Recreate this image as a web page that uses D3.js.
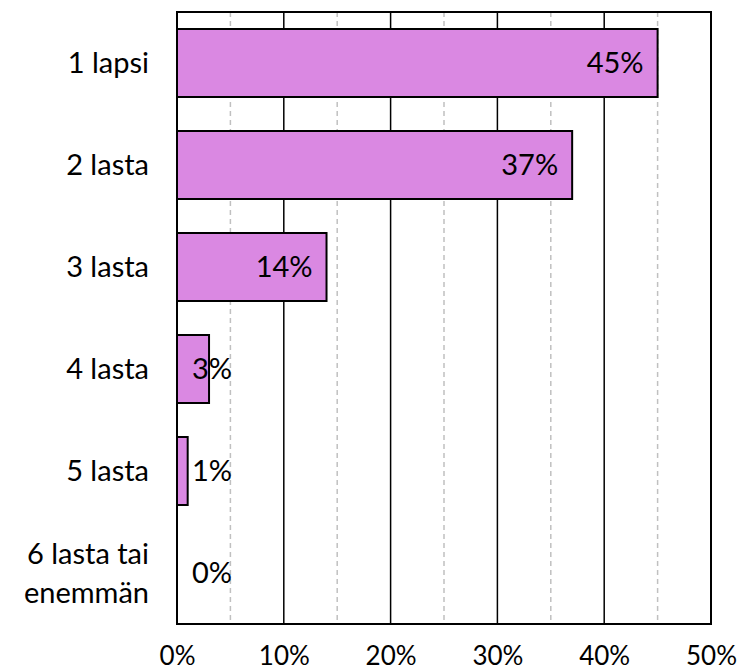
<!DOCTYPE html>
<html>
<head>
<meta charset="utf-8">
<script src="https://cdn.jsdelivr.net/npm/d3@7"></script>
<style>
  body { margin: 0; background: #fff; }
  text { font-family: Lato, "Noto Sans", sans-serif; fill: #000; }
</style>
</head>
<body>
<script>
'use strict';

// categories and shares (fraction of respondents)
let categories = [["1 lapsi"], ["2 lasta"], ["3 lasta"], ["4 lasta"], ["5 lasta"], ["6 lasta tai", "enemmän"]];
let values = [0.45, 0.37, 0.14, 0.03, 0.01, 0.00];
let majorTicks = [0, 0.1, 0.2, 0.3, 0.4, 0.5];
let minorTicks = [0.05, 0.15, 0.25, 0.35, 0.45];

(function() {
  let width = 737, height = 671;
  let left = 177, right = 711, top = 12, bottom = 624;
  let fontSize = '29px';

  let svg = d3.select('body').append('svg')
    .attr('width', width)
    .attr('height', height);

  // x scale: percent
  let xScale = d3.scaleLinear().domain([0, 0.5]).range([left, right]);
  // y scale: one band per category
  let yScale = d3.scaleBand()
    .domain(d3.range(categories.length))
    .range([top, bottom])
    .paddingInner(1 / 3)
    .paddingOuter(1 / 6);

  // dashed minor gridlines
  svg.append('g').selectAll('line')
    .data(minorTicks)
    .enter().append('line')
    .attr('x1', d => xScale(d)).attr('x2', d => xScale(d))
    .attr('y1', top).attr('y2', bottom)
    .attr('stroke', '#c0c0c0')
    .attr('stroke-width', 1.5)
    .attr('stroke-dasharray', '5,4');

  // solid major gridlines
  svg.append('g').selectAll('line')
    .data(majorTicks.slice(1, -1))
    .enter().append('line')
    .attr('x1', d => xScale(d)).attr('x2', d => xScale(d))
    .attr('y1', top).attr('y2', bottom)
    .attr('stroke', '#000')
    .attr('stroke-width', 1.5);

  // bars
  svg.append('g').selectAll('rect')
    .data(values)
    .enter().append('rect')
    .attr('x', xScale(0))
    .attr('y', (d, i) => yScale(i))
    .attr('width', d => xScale(d) - xScale(0))
    .attr('height', yScale.bandwidth())
    .attr('fill', '#da88e2')
    .attr('stroke', d => d > 0 ? '#000' : 'none')
    .attr('stroke-width', 2);

  // plot frame
  svg.append('rect')
    .attr('x', left).attr('y', top)
    .attr('width', right - left).attr('height', bottom - top)
    .attr('fill', 'none')
    .attr('stroke', '#000')
    .attr('stroke-width', 2);

  // value labels, inside end (kept off the axis for small bars)
  svg.append('g').selectAll('text')
    .data(values)
    .enter().append('text')
    .attr('x', d => Math.max(xScale(d) - 14, xScale(0) + 55))
    .attr('y', (d, i) => yScale(i) + yScale.bandwidth() / 2 + 10)
    .attr('text-anchor', 'end')
    .style('font-size', fontSize)
    .text(d => Math.round(d * 100) + '%');

  // category labels
  let cat = svg.append('g').selectAll('text')
    .data(categories)
    .enter().append('text')
    .attr('text-anchor', 'end')
    .style('font-size', fontSize)
    .attr('y', (d, i) => yScale(i) + yScale.bandwidth() / 2 + 10 - (d.length - 1) * 19.5);
  cat.selectAll('tspan')
    .data(d => d)
    .enter().append('tspan')
    .attr('x', 149)
    .attr('dy', (d, i) => i === 0 ? 0 : 39)
    .text(d => d);

  // x tick labels
  let xAxis = d3.axisBottom(xScale)
    .tickValues(majorTicks)
    .tickSize(0)
    .tickPadding(0)
    .tickFormat(d => Math.round(d * 100) + '%');
  let gx = svg.append('g')
    .attr('transform', 'translate(0,' + bottom + ')')
    .call(xAxis);
  gx.select('.domain').remove();
  gx.selectAll('text')
    .attr('y', 41)
    .attr('dy', 0)
    .style('font-size', '26px')
    .style('font-family', 'Lato, "Noto Sans", sans-serif');
})();
</script>
</body>
</html>
